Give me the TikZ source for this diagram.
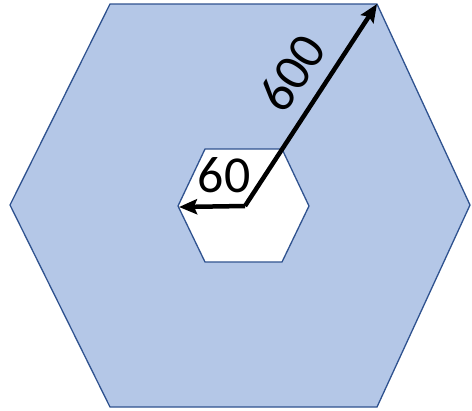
\documentclass[tikz,border=0pt]{standalone}
\usepackage{fontspec}
\setmainfont{Carlito}
\usetikzlibrary{arrows.meta}
\definecolor{hexfill}{HTML}{B4C7E7}
\definecolor{hexstroke}{HTML}{2F528F}
\definecolor{ink}{HTML}{000000}

\begin{document}
\begin{tikzpicture}[
  x=1bp, y=-1bp,
  hexouter/.style={draw=hexstroke, fill=hexfill, line width=1.3bp, line join=miter},
  hexinner/.style={draw=hexstroke, fill=white, line width=1.3bp},
  radius/.style={-{Stealth[length=18bp,width=15bp,inset=3bp]}, draw=ink, line width=4.5bp},
  dim/.style={font=\fontsize{52}{52}\selectfont, text=ink, inner sep=0pt}
]
\useasboundingbox (0,0) rectangle (472,410);

% outer hexagon
\coordinate (o1) at (110,4);
\coordinate (o2) at (377,4);
\coordinate (o3) at (470,205);
\coordinate (o4) at (377,407);
\coordinate (o5) at (110,407);
\coordinate (o6) at (10,205);
\draw[hexouter] (o1) -- (o2) -- (o3) -- (o4) -- (o5) -- (o6) -- cycle;

% inner hexagon
\coordinate (i1) at (205,149);
\coordinate (i2) at (282,149);
\coordinate (i3) at (309,206);
\coordinate (i4) at (282,262);
\coordinate (i5) at (205,262);
\coordinate (i6) at (178,206);
\draw[hexinner] (i1) -- (i2) -- (i3) -- (i4) -- (i5) -- (i6) -- cycle;

\coordinate (centre) at (245,206);
\draw[radius, line join=round] (centre) -- (o2);
\draw[radius] (centre) -- (179,207);

\node[dim] (bigr) at (292,73) [rotate=56.5] {600};
\node[dim] (smallr) at (224,175) {60};
\end{tikzpicture}
\end{document}
